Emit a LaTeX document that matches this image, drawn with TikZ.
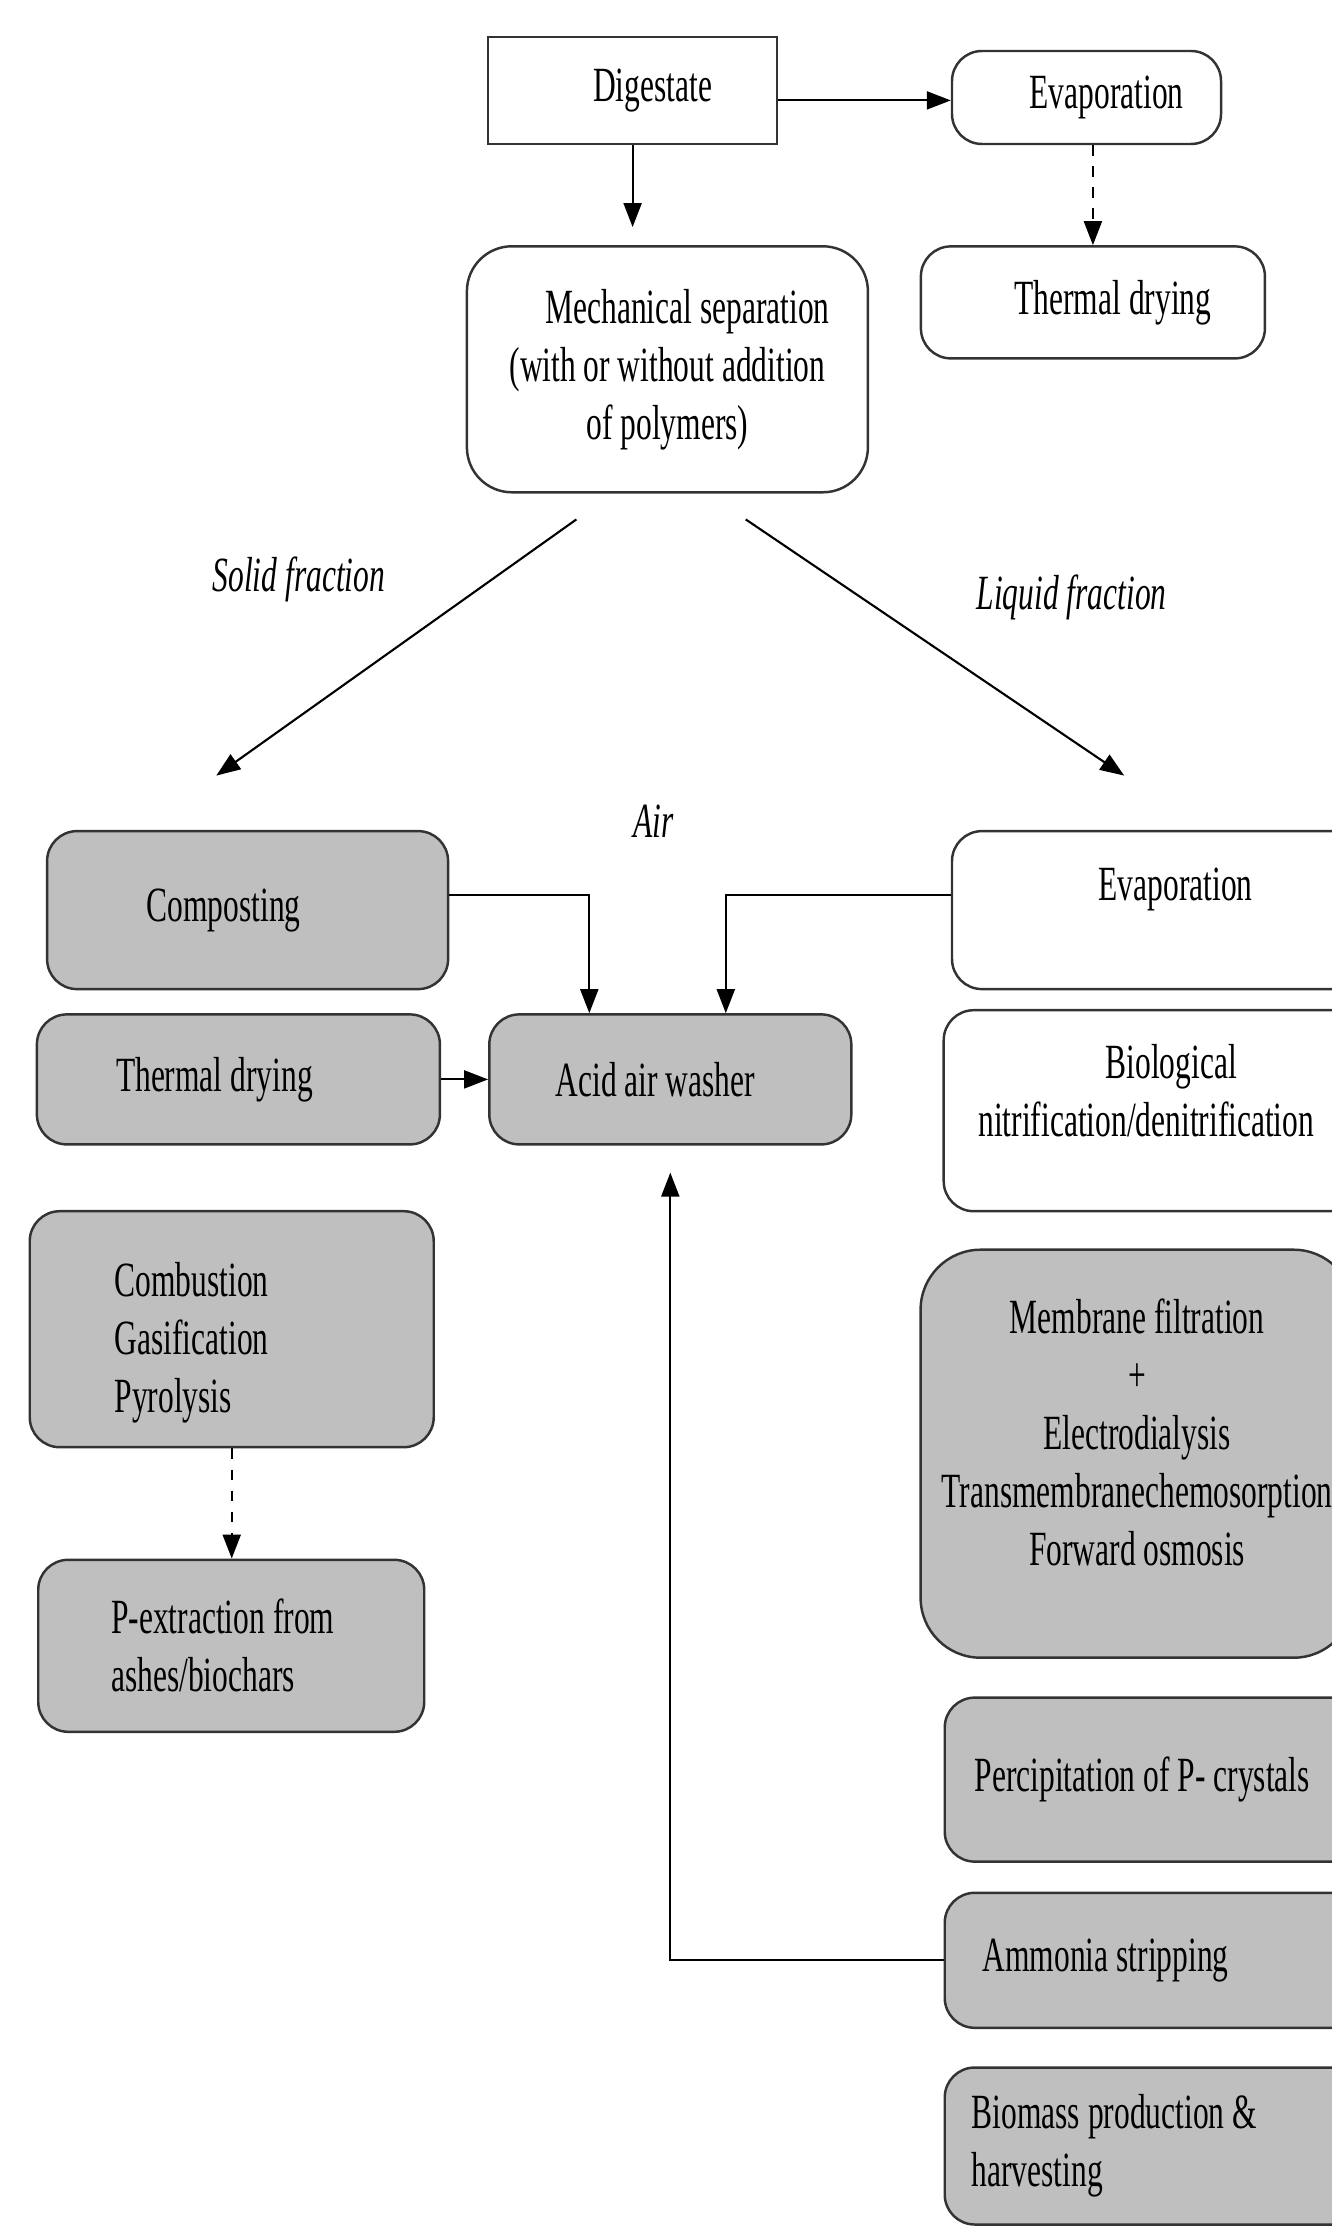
\documentclass[tikz,border=0pt]{standalone}
\usepackage{fontspec}
\setmainfont[FakeStretch=0.64]{Liberation Serif}
\usetikzlibrary{arrows.meta}

\begin{document}
\begin{tikzpicture}[
	font=\fontsize{14}{16.5}\selectfont,
	>={Triangle[length=2.4mm,width=1.8mm]},
	flow/.style={->, line width=0.6pt},
	sqbox/.style={draw=black!80, line width=0.7pt, align=center, inner sep=0pt},
	rbox/.style={sqbox, rounded corners=0.3cm},
	gbox/.style={rbox, fill=gray!50},
	lbox/.style={gbox, anchor=west, align=flush left},
	lab/.style={font=\fontsize{14}{16.5}\selectfont\itshape},
]

	% page frame
	\useasboundingbox (0,0) rectangle (13.32,-22.32);
	\clip (0,0) rectangle (13.32,-22.32);

	% digestate and first split
	\node[sqbox, minimum width=2.89cm, minimum height=1.07cm] (dig) at (6.326,-0.904) {\hspace*{0.4cm}Digestate};
	\node[rbox, minimum width=2.69cm, minimum height=0.93cm] (evapA) at (10.865,-0.975) {\hspace*{0.4cm}Evaporation};
	\node[rbox, minimum width=3.44cm, minimum height=1.12cm] (dryA) at (10.929,-3.024) {\hspace*{0.4cm}Thermal drying};
	\node[rbox, rounded corners=0.45cm, minimum width=4.01cm, minimum height=2.46cm] (mech) at (6.674,-3.693)
		{\hspace*{0.4cm}Mechanical separation\\(with or without addition\\of polymers)};

	\draw[flow] ([yshift=-0.1cm]dig.east) -- ([yshift=-0.1cm]dig.east -| evapA.west);
	\draw[flow, shorten >=0.18cm] (dig.south) -- (dig.south |- mech.north);
	\draw[flow, dashed] (evapA.south -| dryA.north) -- (dryA.north);

	% fractions
	\coordinate (solidA) at (5.764,-5.194);
	\coordinate (solidB) at (2.163,-7.756);
	\coordinate (liqA) at (7.457,-5.194);
	\coordinate (liqB) at (11.242,-7.756);

	\draw[flow] (solidA) -- (solidB);
	\draw[flow] (liqA) -- (liqB);

	\node[lab] (solid) at (2.989,-5.792) {Solid fraction};
	\node[lab] (liquid) at (10.716,-5.977) {Liquid fraction};
	\node[lab] (air) at (6.532,-8.211) {Air};

	% solid fraction treatments
	\node[gbox, minimum width=4.01cm, minimum height=1.58cm] (comp) at (2.476,-9.101) {Composting\hspace*{0.48cm}};
	\node[gbox, minimum width=4.03cm, minimum height=1.30cm] (dryB) at (2.384,-10.794) {Thermal drying\hspace*{0.48cm}};
	\node[gbox, minimum width=3.62cm, minimum height=1.30cm] (acid) at (6.703,-10.794) {Acid air washer\hspace*{0.3cm}};
	\node[lbox, text width=2.34cm, inner xsep=0.85cm, minimum height=2.36cm] (comb) at (0.285,-13.292)
		{\strut\\[-10.5pt]Combustion\\Gasification\\Pyrolysis};
	\node[lbox, text width=2.4cm, inner xsep=0.73cm, minimum height=1.72cm] (pext) at (0.370,-16.458)
		{P-extraction from\\ashes/biochars};

	\draw[flow, dashed] (comb.south) -- (comb.south |- pext.north);

	% liquid fraction treatments
	\node[rbox, minimum width=4.47cm, minimum height=1.58cm] (evapB) at (11.755,-9.101) {Evaporation\\[-7pt]\strut};
	\node[rbox, minimum width=4.55cm, minimum height=2.01cm] (bio) at (11.712,-11.107)
		{Biological\\\hspace*{-0.5cm}nitrification/denitrification\\[-10pt]\strut};
	\node[gbox, rounded corners=0.6cm, minimum width=4.33cm, minimum height=4.08cm] (memb) at (11.371,-14.537)
		{Membrane filtration\\+\\Electrodialysis\\Transmembranechemosorption\\Forward osmosis\\[-9pt]\strut};
	\node[lbox, text width=3.95cm, inner xsep=0.30cm, minimum height=1.64cm] (perc) at (9.435,-17.796)
		{Percipitation of P- crystals};
	\node[lbox, text width=3.79cm, inner xsep=0.38cm, minimum height=1.35cm] (ammo) at (9.435,-19.603)
		{Ammonia stripping};
	\node[lbox, text width=4.01cm, inner xsep=0.27cm, minimum height=1.57cm] (biom) at (9.435,-21.460)
		{Biomass production \&\\harvesting};

	% air washer inputs
	\draw[flow] ([yshift=0.15cm]comp.east) -| ([xshift=-0.81cm]acid.north);
	\draw[flow] ([yshift=0.15cm]evapB.west) -| ([xshift=0.555cm]acid.north);
	\draw[flow] (dryB) -- (acid);
	\draw[flow, shorten >=0.27cm] (ammo.west) -| (acid.south);

\end{tikzpicture}
\end{document}
